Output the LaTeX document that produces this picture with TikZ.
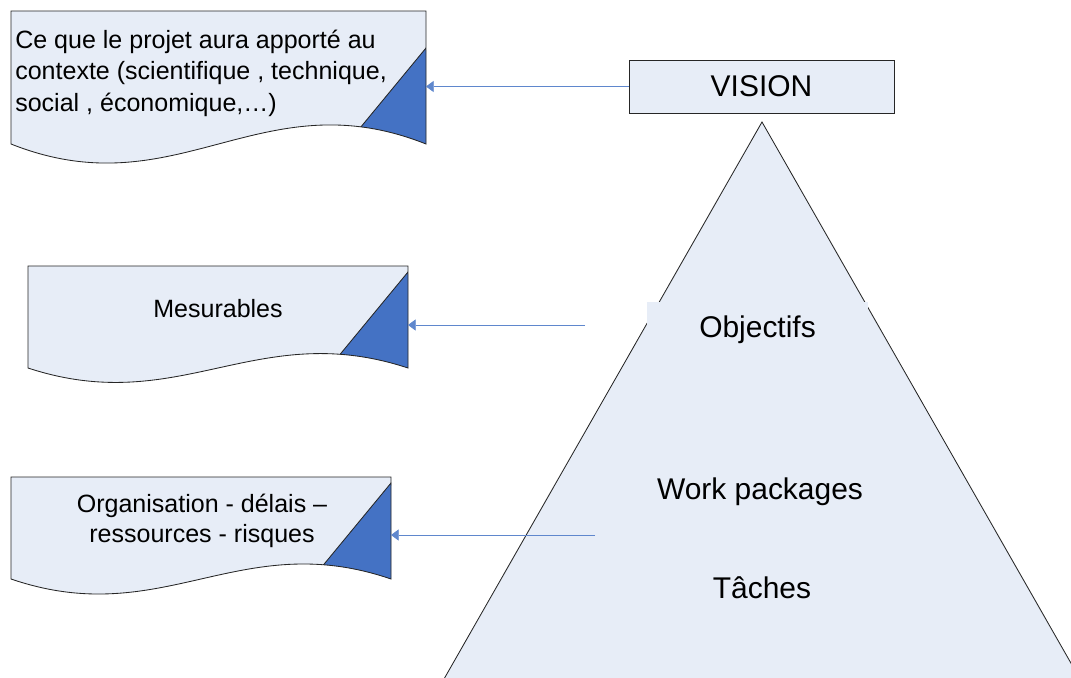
\documentclass[tikz,border=0pt]{standalone}
\usepackage{fontspec}
\setmainfont{Liberation Sans}
\usetikzlibrary{arrows.meta,positioning}
\definecolor{paleblue}{RGB}{231,237,247}
\definecolor{foldblue}{RGB}{68,114,196}
\definecolor{arrowblue}{RGB}{95,135,205}

% page with wavy bottom and blue fold: left, top, right, bottom, wave depth
\newcommand{\docshape}[5]{%
  \fill[docfill] (#1,#2) -- (#3,#2) -- (#3,#4)
    .. controls ({#1+0.6*(#3-#1)},{#4-#5}) and ({#1+0.4*(#3-#1)},{#4+#5}) .. (#1,#4) -- cycle;
  \begin{scope}
    \clip (#1,#2) -- (#3,#2) -- (#3,#4)
      .. controls ({#1+0.6*(#3-#1)},{#4-#5}) and ({#1+0.4*(#3-#1)},{#4+#5}) .. (#1,#4) -- cycle;
    \filldraw[fold] (#3,#4-96) -- ++(-99,120) -- ++(130,0) -- cycle;
  \end{scope}
  \draw[docline] (#1,#2) -- (#3,#2) -- (#3,#4)
    .. controls ({#1+0.6*(#3-#1)},{#4-#5}) and ({#1+0.4*(#3-#1)},{#4+#5}) .. (#1,#4) -- cycle;
}

\begin{document}
\begin{tikzpicture}[x=0.025cm, y=-0.025cm,
    docfill/.style={fill=paleblue},
    docline/.style={draw=black!85, line width=0.6pt},
    fold/.style={fill=foldblue, draw=black!85, line width=0.6pt},
    pyr/.style={fill=paleblue, draw=black!85, line width=0.6pt},
    level/.style={font=\fontsize{21.3}{25}\selectfont},
    note/.style={font=\fontsize{17.8}{21.3}\selectfont, align=center, inner sep=0pt},
    arr/.style={-{Triangle[length=5.5pt, width=8pt]}, line width=0.6pt, arrowblue}
  ]
  \useasboundingbox (0,0) rectangle (1071,677);
  \clip (0,0) rectangle (1071,677);

  % Pyramid
  \filldraw[pyr] (762,122) -- (432,700) -- (1092,700) -- cycle;
  \node[level, fill=paleblue, minimum width=5.525cm, minimum height=1.4cm] (obj) at (757.5,330) {Objectifs};
  \node[level] (wp) at (760,492) {Work packages};
  \node[level] (taches) at (762,588) {Tâches};

  % Vision
  \node[level, draw=black!85, line width=0.6pt, fill=paleblue,
        minimum width=6.625cm, minimum height=1.325cm] (vision) at (761.5,86.5) {VISION};

  % Documents
  \docshape{11}{11}{426}{144}{66}
  \docshape{28}{266}{408}{368}{50}
  \docshape{11}{477}{391}{579}{52}

  \node[note, align=left, anchor=west, font=\fontsize{17.8}{22.4}\selectfont] (ctx) at (15,73)
    {Ce que le projet aura apporté au\\contexte (scientifique , technique,\\social , économique,…)};
  \node[note] (mes) at (218,309) {Mesurables};
  \node[note] (org) at (202,521) {Organisation - délais –\\ressources - risques};

  % Arrows
  \coordinate (ctxE) at (426,86.5);
  \coordinate (mesE) at (408,325);
  \coordinate (orgE) at (391,535);
  \coordinate (objW) at (585,325);
  \coordinate (wpW) at (595,535);
  \draw[arr] (vision.west) -- (ctxE);
  \draw[arr] (objW) -- (mesE);
  \draw[arr] (wpW) -- (orgE);
\end{tikzpicture}
\end{document}
